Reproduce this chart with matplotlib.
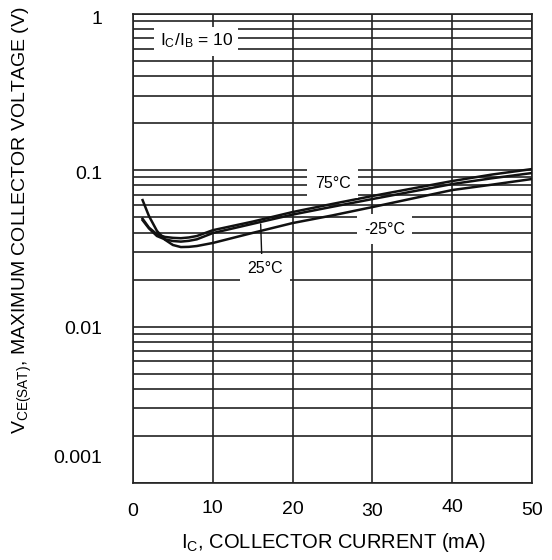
import matplotlib
matplotlib.use("Agg")
import matplotlib.pyplot as plt
from matplotlib.ticker import LogLocator, NullFormatter
from matplotlib.transforms import ScaledTranslation

# =========================
# 기본 설정
# =========================
plt.rcParams['font.family'] = ['Liberation Sans', 'DejaVu Sans']
plt.rcParams['mathtext.fontset'] = 'custom'
plt.rcParams['mathtext.rm'] = 'Liberation Sans'
plt.rcParams['mathtext.it'] = 'Liberation Sans'

# =========================
# 데이터
# =========================
ic_75 = [1.2, 2, 3, 4, 5, 6, 7, 8, 10, 15, 20, 25, 30, 35, 40, 45, 50]
vce_75 = [0.049, 0.043, 0.039, 0.0375, 0.0370, 0.0368, 0.0372, 0.0380, 0.0414, 0.047, 0.0541,
          0.061, 0.0685, 0.0765, 0.0854, 0.094, 0.1019]

ic_25 = [1.2, 2, 3, 4, 5, 6, 7, 8, 10, 15, 20, 25, 30, 35, 40, 45, 50]
vce_25 = [0.048, 0.0425, 0.038, 0.0362, 0.0353, 0.0350, 0.0354, 0.0362, 0.0397, 0.0455, 0.0521,
          0.0585, 0.0655, 0.0732, 0.0817, 0.089, 0.0961]

ic_m25 = [1.2, 2, 3, 4, 5, 6, 7, 8, 10, 15, 20, 25, 30, 35, 40, 45, 50]
vce_m25 = [0.0645, 0.051, 0.041, 0.036, 0.0333, 0.0323, 0.0324, 0.0328, 0.0343, 0.0398, 0.0460,
           0.0515, 0.0582, 0.066, 0.0748, 0.081, 0.0880]

x_ticks = [0, 10, 20, 30, 40, 50]
x_labels = ["0", "10", "20", "30", "40", "50"]
y_ticks = [0.001, 0.01, 0.1, 1]
y_labels = ["0.001", "0.01", "0.1", "1"]

# =========================
# 그림
# =========================
fig = plt.figure(figsize=(5.52, 5.60), dpi=100)
ax = fig.add_axes([133 / 552, 1 - 483 / 560, 399 / 552, 469 / 560])

GRID_KW = dict(color="#222222", linewidth=1.2)

for ic, v in [(ic_75, vce_75), (ic_25, vce_25), (ic_m25, vce_m25)]:
    ax.plot(ic, v, color="#111111", linewidth=1.8, solid_joinstyle="round", zorder=3)

ax.set_yscale("log")
ax.set_xlim(0, 50)
ax.set_ylim(0.001, 1)

ax.set_xticks(x_ticks)
ax.set_xticklabels(x_labels)
ax.set_yticks(y_ticks)
ax.set_yticklabels(y_labels)
ax.yaxis.set_minor_locator(LogLocator(base=10, subs=range(2, 10)))
ax.yaxis.set_minor_formatter(NullFormatter())

ax.grid(True, which="major", **GRID_KW)
ax.grid(True, which="minor", axis="y", **GRID_KW)

ax.tick_params(which="both", length=0)
ax.tick_params(axis="x", labelsize=14, pad=14)
ax.tick_params(axis="y", labelsize=14, pad=22)

for s in ax.spines.values():
    s.set_color("#222222")
    s.set_linewidth(1.2)

# 눈금 라벨 위치 (원본처럼 약간 어긋나게)
x_offsets = [-1, 2, 1, -1, 3, 0]
for lbl, dy in zip(ax.get_xticklabels(), x_offsets):
    lbl.set_transform(lbl.get_transform() + ScaledTranslation(0, dy / 100, fig.dpi_scale_trans))
y_offsets = [26, -1, -2, -3]
for lbl, dy in zip(ax.get_yticklabels(), y_offsets):
    lbl.set_transform(lbl.get_transform() + ScaledTranslation(0, dy / 100, fig.dpi_scale_trans))

# =========================
# 주석
# =========================
BOX = dict(boxstyle="square,pad=0.45", facecolor="white", edgecolor="none")

ax.text(7.9, 0.671, r"I$_\mathrm{C}$/I$_\mathrm{B}$ = 10", fontsize=12.5,
        ha="center", va="center", bbox=dict(BOX, boxstyle="square,pad=0.3"), zorder=4)
ax.text(25, 0.0829, "75°C", fontsize=11.5, ha="center", va="center", bbox=BOX, zorder=4)
ax.text(31.5, 0.0421, "-25°C", fontsize=11.5, ha="center", va="center", bbox=BOX, zorder=4)
ax.annotate("25°C", xy=(16, 0.0454), xytext=(16.6, 0.0234), fontsize=11.5,
            ha="center", va="center", bbox=BOX, zorder=4,
            arrowprops=dict(arrowstyle="-", color="#111111", linewidth=1.0,
                            shrinkA=0, shrinkB=0, relpos=(0.4, 1.0)))

fig.text(333 / 552, 1 - 542 / 560, r"I$_\mathrm{C}$, COLLECTOR CURRENT (mA)",
         fontsize=14.5, ha="center", va="center")
fig.text(22 / 552, 1 - 220 / 560, r"V$_\mathrm{CE(SAT)}$, MAXIMUM COLLECTOR VOLTAGE (V)",
         fontsize=14, ha="center", va="center", rotation=90)

fig.savefig("out.png", dpi=100)
